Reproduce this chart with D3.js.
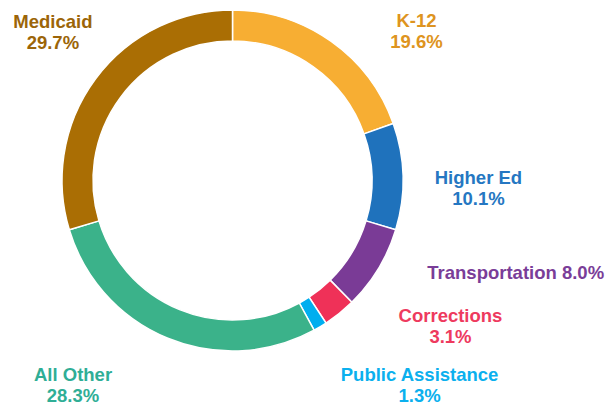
<!DOCTYPE html>
<html>
<head>
<meta charset="utf-8">
<script src="https://cdn.jsdelivr.net/npm/d3@7"></script>
<style>
    body { margin: 0; background: #fff; }
    text { font-family: "Liberation Sans", Arial, sans-serif; font-weight: bold; }
</style>
</head>
<body>
<script>
// chart data
const categories = ["K-12", "Higher Ed", "Transportation", "Corrections", "Public Assistance", "All Other", "Medicaid"];
const shares = [19.6, 10.1, 8.0, 3.1, 1.3, 28.3, 29.7];
const sliceColors = ["#F7AE33", "#1F72BC", "#7A3B96", "#EF3158", "#00AEEF", "#3BB28A", "#AA6E04"];
const labelColors = ["#DE9420", "#2577C2", "#7A3D98", "#EE3A5E", "#0BB0EE", "#2FAE96", "#9C6508"];

const width = 605;
const height = 405;

let svg = d3
    .select("body")
    .append("svg")
    .attr("width", width)
    .attr("height", height);

let cx = 232.5;
let cy = 180.5;
let outerR = 170.5;
let innerR = 139.5;

let data = categories.map((c, i) => ({ name: c, value: shares[i], color: sliceColors[i], label: labelColors[i] }));

let pie = d3.pie()
    .value(d => d.value)
    .sort(null);

let arc = d3.arc()
    .innerRadius(innerR)
    .outerRadius(outerR);

let arcs = pie(data);

let g = svg.append("g")
    .attr("transform", `translate(${cx}, ${cy})`);

g.selectAll("path")
    .data(arcs)
    .join("path")
    .attr("d", arc)
    .attr("fill", d => d.data.color)
    .attr("stroke", "#fff")
    .attr("stroke-width", 1.5);

// Label placement: radial point on the slice mid angle, then nudged like the original
let labelR = 220;
let nudge = {
    "K-12": [57, 26],
    "Higher Ed": [26, 9],
    "Transportation": [95, -15],
    "Corrections": [80, -30],
    "Public Assistance": [74, 11.5],
    "All Other": [-76, -3],
    "Medicaid": [-3, -21]
};

let labels = g.selectAll("text.label")
    .data(arcs)
    .join("text")
    .attr("class", "label")
    .attr("text-anchor", "middle")
    .style("font-size", "18.5px")
    .attr("fill", d => d.data.label)
    .attr("transform", d => {
        let mid = (d.startAngle + d.endAngle) / 2;
        let p = d3.pointRadial(mid, labelR);
        let n = nudge[d.data.name];
        return `translate(${p[0] + n[0]}, ${p[1] + n[1]})`;
    });

labels.each(function (d) {
    let t = d3.select(this);
    let pct = d.data.value.toFixed(1) + "%";
    if (d.data.name === "Transportation") {
        t.append("tspan").attr("x", 0).attr("y", 0).text(d.data.name + " " + pct);
    } else {
        t.append("tspan").attr("x", 0).attr("y", 0).text(d.data.name);
        t.append("tspan").attr("x", 0).attr("y", 21).text(pct);
    }
});
</script>
</body>
</html>
